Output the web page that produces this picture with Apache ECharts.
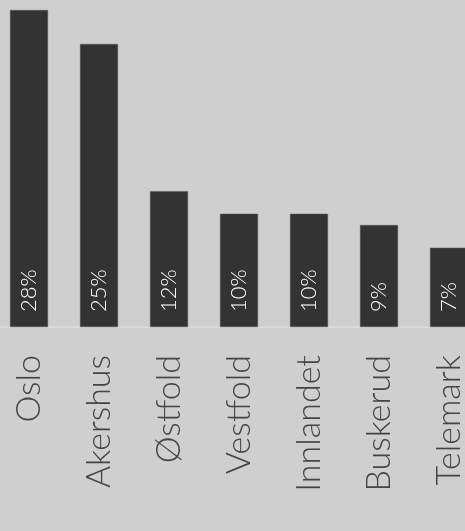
<!DOCTYPE html>
<html><head><meta charset="utf-8">
<script src="https://cdn.jsdelivr.net/npm/echarts@6/dist/echarts.min.js"></script>
<style>html,body{margin:0;padding:0;background:#cfcfcf}#c{width:465px;height:531px}</style>
</head><body><div id="c"></div>
<script>
const categories = ['Oslo','Akershus','Østfold','Vestfold','Innlandet','Buskerud','Telemark'];
const values = [28,25,12,10,10,9,7];

const chart = echarts.init(document.getElementById('c'), null, {renderer:'canvas'});
chart.setOption({
  backgroundColor:'#cfcfcf',
  animation:false,
  grid:{left:-6,width:490,top:10,bottom:204,containLabel:false,outerBoundsMode:'none'},
  xAxis:{type:'category',data:categories,
    axisLine:{show:true,lineStyle:{color:'#dadada',width:2}},
    axisTick:{show:false},
    axisLabel:{rotate:90,margin:28,color:'#444',fontSize:34,fontWeight:300,fontFamily:'Lato',interval:0}},
  yAxis:{type:'value',min:0,max:28,show:false,splitLine:{show:false}},
  series:[{type:'bar',data:values,barWidth:38,
    itemStyle:{color:'#333333',borderColor:'#555',borderWidth:0.5},
    label:{show:true,position:'insideBottom',rotate:90,align:'left',verticalAlign:'middle',distance:15,
      color:'#fff',fontSize:22,fontWeight:300,fontFamily:'Lato',formatter:p=>p.value+'%'}}]
});
</script></body></html>
